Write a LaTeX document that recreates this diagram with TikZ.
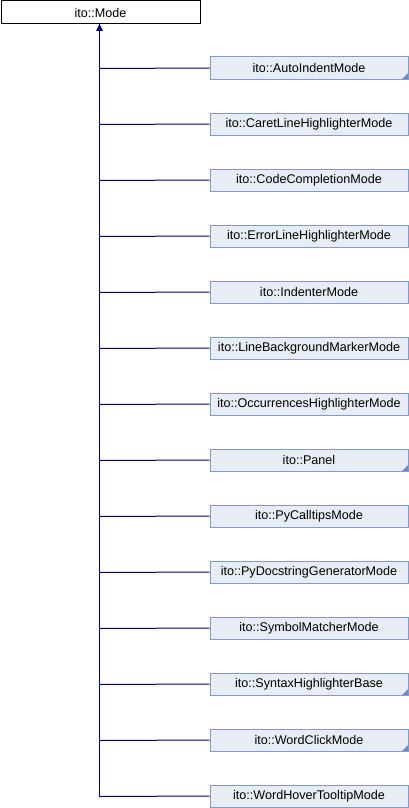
\documentclass[tikz,border=0pt]{standalone}
\usepackage{fontspec}
\setmainfont{Liberation Sans}
\definecolor{edgeblue}{HTML}{000080}
\definecolor{boxfill}{HTML}{E8ECF5}
\definecolor{boxline}{HTML}{8499CC}
\definecolor{cornerblue}{HTML}{7088C4}
\begin{document}
\begin{tikzpicture}[x=1pt,y=-1pt,
  base/.style={draw=black,fill=white,line width=1pt,minimum width=199pt,minimum height=23pt,inner sep=0pt,font=\fontsize{12.6}{14}\selectfont,anchor=north west},
  child/.style={draw=boxline,fill=boxfill,line width=1pt,minimum width=198pt,minimum height=22pt,inner sep=0pt,font=\fontsize{12.6}{14}\selectfont,anchor=north west},
  edge/.style={draw=edgeblue,line width=1pt}]
\useasboundingbox (0,0) rectangle (408,808);
\node[base] (mode) at (0.5,0.5) {ito::Mode};
\coordinate (top) at (99.5,24);
\foreach \i/\n/\t in {0/a/ito::AutoIndentMode,1/b/ito::CaretLineHighlighterMode,2/c/ito::CodeCompletionMode,3/d/ito::ErrorLineHighlighterMode,4/e/ito::IndenterMode,5/f/ito::LineBackgroundMarkerMode,6/g/ito::OccurrencesHighlighterMode,7/h/ito::Panel,8/i/ito::PyCalltipsMode,9/j/ito::PyDocstringGeneratorMode,10/k/ito::SymbolMatcherMode,11/l/ito::SyntaxHighlighterBase,12/m/ito::WordClickMode,13/n/ito::WordHoverTooltipMode}{
  \node[child] (\n) at (209.5,{56.5+56*\i}) {\t};
  \coordinate (j\n) at (99.5,{68.5+56*\i});
  \draw[edge] (j\n) -- (\n.west);
}
\foreach \n in {a,h,l,m}{
  \fill[cornerblue] ([xshift=-0.5pt,yshift=0.5pt]\n.south east) -- ++(0,-6) -- ++(-6,6) -- cycle;
}
\draw[edge] (jn) -- (top);
\fill[edgeblue] (top) -- ++(-3.5,7) -- ++(7,0) -- cycle;
\end{tikzpicture}
\end{document}
